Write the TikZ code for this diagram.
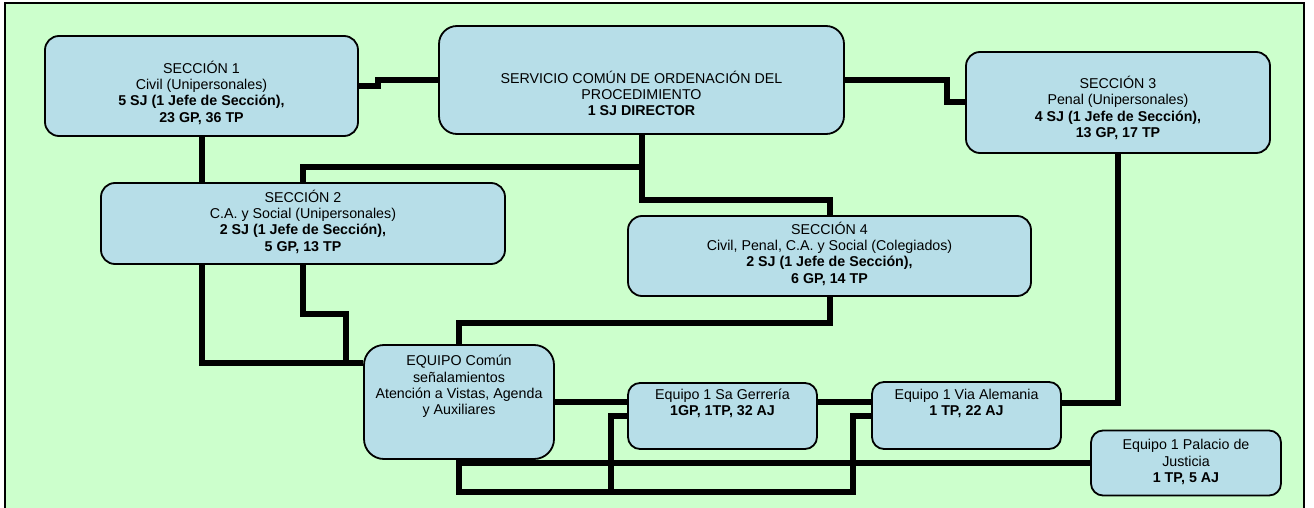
\documentclass[tikz,border=0pt]{standalone}
\usepackage{fontspec}
\setmainfont{Liberation Sans}
\definecolor{bg}{HTML}{CCFFCC}
\definecolor{boxblue}{HTML}{B7DEE8}

\begin{document}
\begin{tikzpicture}[x=1pt,y=-1pt,
  unit/.style={rectangle, draw, line width=1.8pt, fill=boxblue, rounded corners=14pt, inner sep=0pt},
  lbl/.style={align=center, font=\fontsize{14.25}{16.3}\selectfont, inner sep=0pt},
  link/.style={line width=6pt}]

\clip (0,0) rectangle (1314,508);
\useasboundingbox (0,0) rectangle (1314,508);
\draw[line width=2pt, fill=bg] (5,3) rectangle (1304,530);

% sections
\node[unit, minimum width=313, minimum height=100] (s1) at (201.5,86) {};
\node[lbl] (s1t) at (201.5,92.5) {SECCIÓN 1\\Civil (Unipersonales)\\\textbf{5 SJ (1 Jefe de Sección),}\\\textbf{23 GP, 36 TP}};
\node[unit, minimum width=405, minimum height=108, rounded corners=18pt] (sc) at (641.5,80) {};
\node[lbl] (sct) at (641.5,93.5) {SERVICIO COMÚN DE ORDENACIÓN DEL\\PROCEDIMIENTO\\\textbf{1 SJ DIRECTOR}};
\node[unit, minimum width=304, minimum height=101] (s3) at (1118,102.5) {};
\node[lbl] (s3t) at (1118,108) {SECCIÓN 3\\Penal (Unipersonales)\\\textbf{4 SJ (1 Jefe de Sección),}\\\textbf{13 GP, 17 TP}};
\node[unit, minimum width=404, minimum height=81] (s2) at (303,223.5) {};
\node[lbl] (s2t) at (303,221.5) {SECCIÓN 2\\C.A. y Social (Unipersonales)\\\textbf{2 SJ (1 Jefe de Sección),}\\\textbf{5 GP, 13 TP}};
\node[unit, minimum width=403, minimum height=80] (s4) at (829.5,256) {};
\node[lbl] (s4t) at (829.5,253.5) {SECCIÓN 4\\Civil, Penal, C.A. y Social (Colegiados)\\\textbf{2 SJ (1 Jefe de Sección),}\\\textbf{6 GP, 14 TP}};

% equipos
\node[unit, minimum width=190, minimum height=114, rounded corners=20pt] (eq) at (459,402) {};
\node[lbl] (eqt) at (459,386.5) {EQUIPO Común\\señalamientos\\Atención a Vistas, Agenda\\y Auxiliares};
\node[unit, minimum width=189, minimum height=66, rounded corners=12pt] (g1) at (722.5,416) {};
\node[lbl] (g1t) at (722.5,403.5) {Equipo 1 Sa Gerrería\\\textbf{1GP, 1TP, 32 AJ}};
\node[unit, minimum width=189, minimum height=67, rounded corners=12pt] (va) at (966.5,415.5) {};
\node[lbl] (vat) at (966.5,403.5) {Equipo 1 Via Alemania\\\textbf{1 TP, 22 AJ}};
\node[unit, minimum width=190, minimum height=65, rounded corners=12pt] (pj) at (1186,463) {};
\node[lbl] (pjt) at (1186,462) {Equipo 1 Palacio de\\Justicia\\\textbf{1 TP, 5 AJ}};

% links
\draw[link] (s1.east) -- ++(19,0) -- ++(0,-6) -- (sc.west);
\draw[link] (sc.east) -| ([xshift=-18pt]s3.west) -- (s3.west);
\draw[link] (s1.south) -- (s1.south |- s2.north);
\draw[link] (sc.south) -- ++(0,32) coordinate (j1) -| (s2.north);
\draw[link] (j1) -- ++(0,33) -| (s4.north);
\draw[link] (s2.south -| s1.south) |- ([yshift=39pt]eq.west);
\draw[link] (s2.south) -- ++(0,49) -- ++(43,0) -- ++(0,50);
\draw[link] (s4.south) -- ++(0,26) -| (eq.north);
\draw[link] (s3.south) |- ([yshift=12.5pt]va.east);
\draw[link] (eq.east) -- (eq.east -| g1.west);
\draw[link] (g1.east |- eq.east) -- (va.west |- eq.east);
\draw[link] (eq.south) |- (611,492) coordinate (j2) |- (g1.west);
\draw[link] (j2) -- (853,492) |- (va.west);
\draw[link] (eq.south |- pj.west) -- (pj.west);
\end{tikzpicture}
\end{document}
